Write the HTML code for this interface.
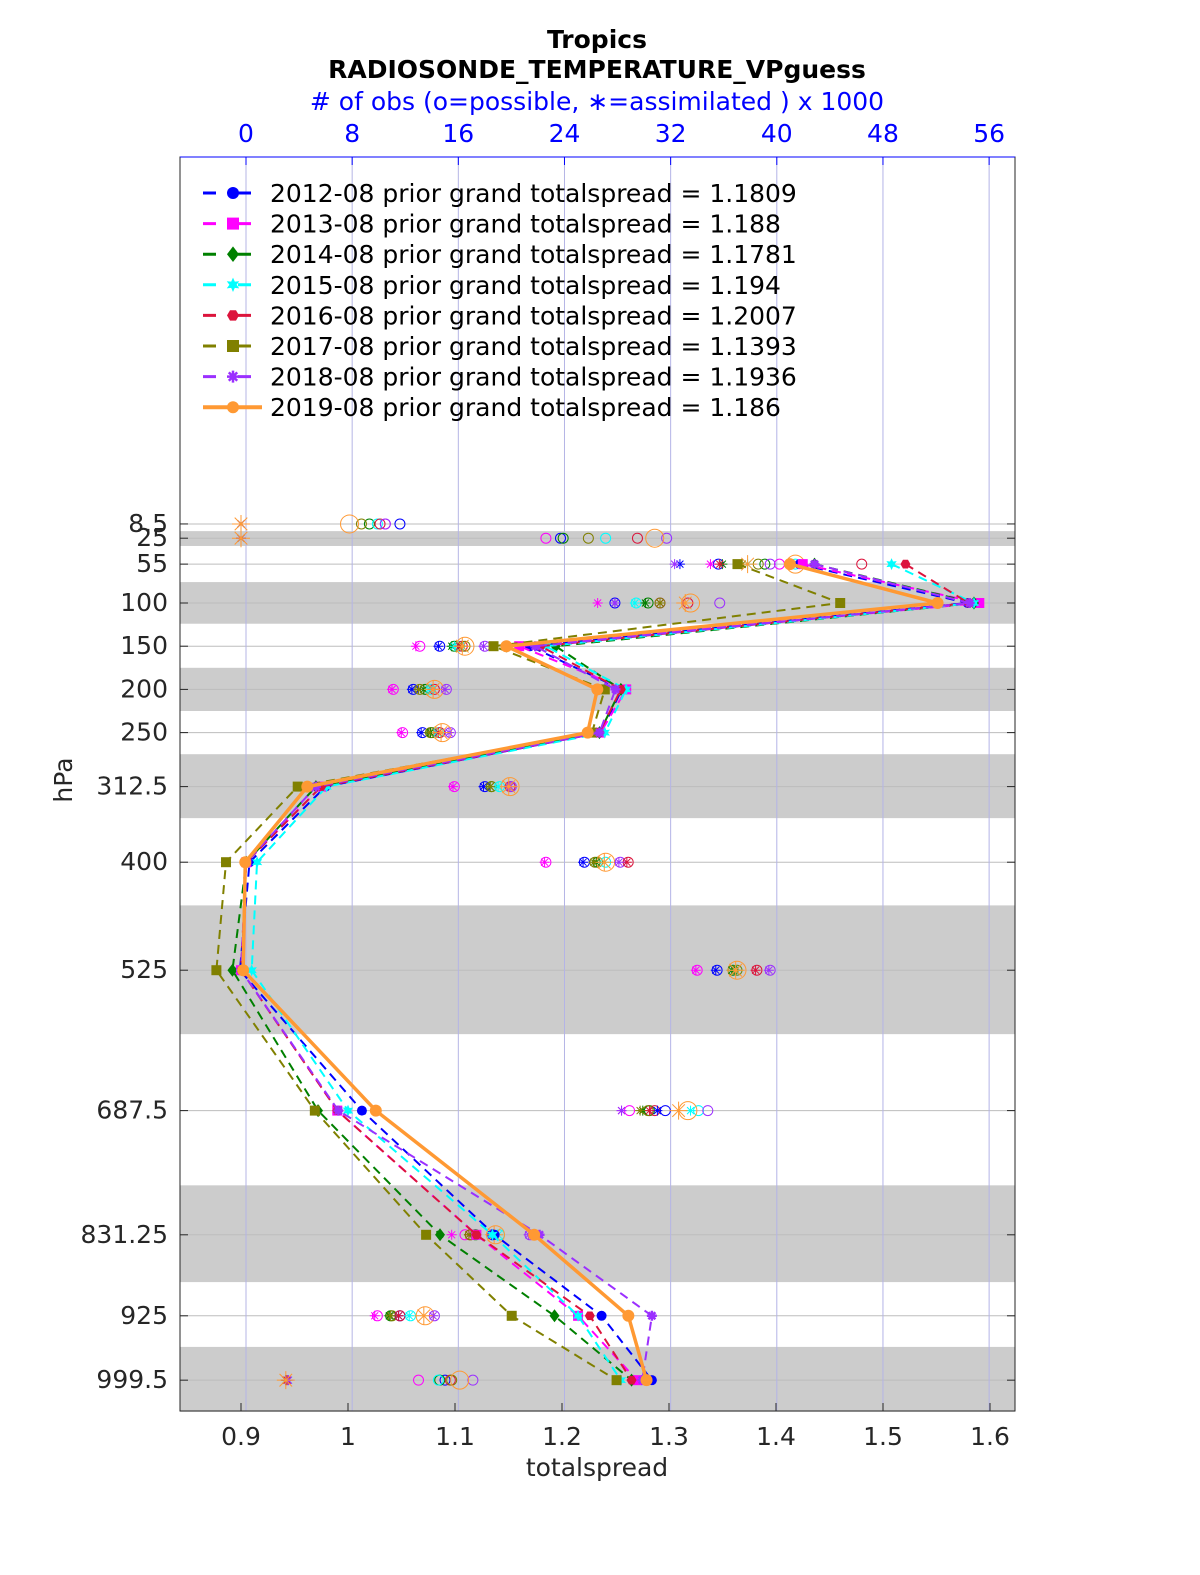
<!DOCTYPE html>
<html><head><meta charset="utf-8"><style>
html,body{margin:0;padding:0;background:#fff;}
svg{display:block;font-family:"DejaVu Sans","Liberation Sans",sans-serif;}
</style></head><body>
<svg id="chart" width="1200" height="1575" viewBox="0 0 1200 1575" xmlns="http://www.w3.org/2000/svg">
<rect x="0" y="0" width="1200" height="1575" fill="#fff"/>
<text x="597" y="48" text-anchor="middle" font-size="25" font-weight="bold">Tropics</text>
<text x="597" y="78" text-anchor="middle" font-size="25" font-weight="bold">RADIOSONDE_TEMPERATURE_VPguess</text>
<text x="597" y="110" text-anchor="middle" font-size="25" fill="#0000ff"># of obs (o=possible, ∗=assimilated ) x 1000</text>
<text x="597" y="1476" text-anchor="middle" font-size="25" fill="#262626">totalspread</text>
<text x="0" y="0" transform="translate(72,780) rotate(-90)" text-anchor="middle" font-size="25" fill="#262626">hPa</text>
<g id="g"></g>
</svg>
<script>
const levels=[8.5,25,55,100,150,200,250,312.5,400,525,687.5,831.25,925,999.5];
const bandTop=[16.8,75.8,175,275,450,774,961];
const bandBottom=[34,124,225,349,599,886,1036];
const xTicks=[0.9,1,1.1,1.2,1.3,1.4,1.5,1.6];
const topTicks=[0,8,16,24,32,40,48,56];
const seriesNames=["2012-08","2013-08","2014-08","2015-08","2016-08","2017-08","2018-08","2019-08"];
const grandSpread=["1.1809","1.188","1.1781","1.194","1.2007","1.1393","1.1936","1.186"];
const lineLevels=[55,100,150,200,250,312.5,400,525,687.5,831.25,925,999.5];
const s2012=[1.422,1.579,1.170,1.256,1.236,0.979,0.908,0.899,1.013,1.137,1.237,1.284];
const s2013=[1.425,1.590,1.160,1.260,1.236,0.975,0.905,0.900,0.990,1.120,1.215,1.270];
const s2014=[1.436,1.585,1.194,1.255,1.235,0.970,0.905,0.892,0.972,1.086,1.193,1.265];
const s2015=[1.508,1.585,1.185,1.260,1.240,0.980,0.915,0.910,1.000,1.135,1.215,1.255];
const s2016=[1.521,1.580,1.180,1.255,1.235,0.975,0.905,0.900,0.990,1.120,1.226,1.265];
const s2017=[1.364,1.460,1.136,1.240,1.228,0.953,0.886,0.877,0.969,1.073,1.153,1.251];
const s2018=[1.436,1.581,1.175,1.250,1.235,0.970,0.905,0.900,0.991,1.179,1.284,1.275];
const s2019=[1.413,1.551,1.148,1.233,1.224,0.962,0.904,0.902,1.026,1.174,1.262,1.279];
const p2012=[11.6,23.7,35.6,27.8,14.6,12.6,13.3,18.0,25.5,35.5,31.6,18.6,11.6,15.0];
const p2013=[10.5,22.6,40.2,31.2,13.1,11.1,11.8,15.7,22.6,34.0,28.9,16.5,9.9,13.0];
const p2014=[9.3,23.9,39.1,30.3,15.7,13.5,14.0,18.5,26.5,36.7,30.4,17.3,10.9,14.6];
const p2015=[9.9,27.1,41.4,29.4,16.1,13.9,14.5,19.1,27.1,37.0,34.1,19.1,12.4,14.5];
const p2016=[10.1,29.5,46.4,33.3,16.3,14.2,14.6,19.9,28.8,38.5,30.8,16.9,11.6,15.4];
const p2017=[8.7,25.8,38.6,31.2,16.5,13.1,13.9,18.5,26.3,37.0,30.3,16.9,11.0,15.5];
const p2018=[10.5,31.7,39.5,35.7,18.0,15.1,15.4,20.0,28.2,39.5,34.8,21.4,14.2,17.1];
const p2019=[7.8,30.8,41.4,33.5,16.5,14.2,14.8,19.9,27.1,37.0,33.3,18.8,13.5,16.1];
const a2012=[0,0,32.7,27.8,14.5,12.5,13.2,17.9,25.4,35.4,31.0,18.5,11.5,3.0];
const a2013=[0,0,35.0,26.5,12.8,11.0,11.7,15.6,22.5,33.9,28.3,15.5,9.7,3.1];
const a2014=[0,0,35.9,30.1,15.5,13.4,13.9,18.4,26.4,36.6,29.9,17.2,10.8,3.0];
const a2015=[0,0,37.8,29.3,15.7,13.8,14.4,19.0,27.0,36.9,33.5,19.0,12.3,3.2];
const a2016=[0,0,35.7,31.2,16.1,14.1,14.5,19.8,28.7,38.4,30.4,16.8,11.5,3.1];
const a2017=[0,0,37.4,31.2,16.3,13.0,13.8,18.4,26.2,36.9,29.7,16.8,10.9,3.0];
const a2018=[0,0,32.3,27.8,17.9,15.0,15.3,19.9,28.1,39.4,28.3,21.3,14.1,3.2];
const a2019=[0,0,37.8,33.1,16.3,14.1,14.7,19.8,27.0,36.9,32.6,18.7,13.4,3.0];

const spreadSeries=[s2012,s2013,s2014,s2015,s2016,s2017,s2018,s2019];
const possSeries=[p2012,p2013,p2014,p2015,p2016,p2017,p2018,p2019];
const assimSeries=[a2012,a2013,a2014,a2015,a2016,a2017,a2018,a2019];
const colors=["#0000ff","#ff00ff","#008000","#00ffff","#dc143c","#808000","#9b30ff","#ff9933"];
const markers=["circle","square","diamond","star","hex","square","asterisk","circle"];

const L=180,R=1015,T=157,B=1411;
const X=v=>241+(v-0.9)*1070;
const XT=n=>246+n*13.27;
const Y=p=>516.6+0.864*p;
const NS="http://www.w3.org/2000/svg";
const g=document.getElementById('g');
function mk(tag,attrs,parent){const e=document.createElementNS(NS,tag);for(const k in attrs)e.setAttribute(k,attrs[k]);(parent||g).appendChild(e);return e;}

bandTop.forEach((t,i)=>{
  const r=mk('rect',{x:L,y:Y(t),width:R-L,height:Y(bandBottom[i])-Y(t),fill:'#cccccc'});
  
  
});
levels.forEach(p=>{
  const l=mk('line',{x1:L,x2:R,y1:Y(p),y2:Y(p),stroke:'#bdbdbd','stroke-width':1});
  
  
});
topTicks.forEach(n=>{
  const l=mk('line',{x1:XT(n),x2:XT(n),y1:T,y2:B,stroke:'#b4b4e6','stroke-width':1});
  
  
  const t=mk('text',{x:XT(n),y:142,'text-anchor':'middle','font-size':25,fill:'#0000ff'});
  t.textContent=n;
  
  
  const k=mk('line',{x1:XT(n),x2:XT(n),y1:T,y2:T+8,stroke:'#0000ff'});
  
  
});
const fr=mk('rect',{x:L,y:T,width:R-L,height:B-T,fill:'none',stroke:'#262626','stroke-width':1});


const tf=mk('line',{x1:L,x2:R,y1:T,y2:T,stroke:'#0000ff'});


xTicks.forEach(v=>{
  const t=mk('text',{x:X(v),y:1445,'text-anchor':'middle','font-size':25,fill:'#262626'});
  t.textContent=v;
  
  
  const k=mk('line',{x1:X(v),x2:X(v),y1:B,y2:B-8,stroke:'#262626'});
  
  
});
levels.forEach(p=>{
  const t=mk('text',{x:168,y:Y(p)+8,'text-anchor':'end','font-size':25,fill:'#262626'});
  t.textContent=p;
  
  
  const k=mk('line',{x1:L,x2:L+8,y1:Y(p),y2:Y(p),stroke:'#262626'});
  
  
  const k2=mk('line',{x1:R-8,x2:R,y1:Y(p),y2:Y(p),stroke:'#262626'});
  
  
});

function marker(type,x,y,c,s){
  let e;
  if(type==='circle')e=mk('circle',{cx:x,cy:y,r:s,fill:c});
  else if(type==='square')e=mk('rect',{x:x-s,y:y-s,width:2*s,height:2*s,fill:c});
  else if(type==='diamond')e=mk('polygon',{points:`${x},${y-s*1.3} ${x+s},${y} ${x},${y+s*1.3} ${x-s},${y}`,fill:c});
  else if(type==='hex'){let pts=[];for(let i=0;i<6;i++){const a=Math.PI/3*i;pts.push((x+s*Math.cos(a))+','+(y+s*Math.sin(a)));}e=mk('polygon',{points:pts.join(' '),fill:c});}
  else if(type==='star'){let pts=[];for(let i=0;i<12;i++){const a=Math.PI/6*i-Math.PI/2,r=i%2?s*0.6:s*1.2;pts.push((x+r*Math.cos(a))+','+(y+r*Math.sin(a)));}e=mk('polygon',{points:pts.join(' '),fill:c});}
  else {e=mk('path',{d:`M${x-s},${y}H${x+s}M${x},${y-s}V${y+s}M${x-s*.7},${y-s*.7}L${x+s*.7},${y+s*.7}M${x-s*.7},${y+s*.7}L${x+s*.7},${y-s*.7}`,stroke:c,'stroke-width':2.5,fill:'none'});}
  return e;
}
function asterisk(x,y,c,s){
  return mk('path',{d:`M${x-s},${y}H${x+s}M${x},${y-s}V${y+s}M${x-s*.7},${y-s*.7}L${x+s*.7},${y+s*.7}M${x-s*.7},${y+s*.7}L${x+s*.7},${y-s*.7}`,stroke:c,'stroke-width':1,fill:'none'});
}
possSeries.forEach((arr,si)=>{
  const big=si===7;
  arr.forEach((n,li)=>{
    const c=mk('circle',{cx:XT(n),cy:Y(levels[li]),r:big?9:5,fill:'none',stroke:colors[si],'stroke-width':1});
    
    
  });
});
assimSeries.forEach((arr,si)=>{
  const big=si===7;
  arr.forEach((n,li)=>{
    const c=asterisk(XT(n)-(n===0?5:0),Y(levels[li]),colors[si],big?9:5);
    
    
  });
});
spreadSeries.forEach((arr,si)=>{
  const pts=arr.map((v,i)=>X(v)+','+Y(lineLevels[i])).join(' ');
  const last=si===7;
  const pl=mk('polyline',{points:pts,fill:'none',stroke:colors[si],'stroke-width':last?3.5:2,'stroke-dasharray':last?'none':'9,6'});
  
  
  arr.forEach((v,i)=>{
    const m=marker(markers[si],X(v),Y(lineLevels[i]),colors[si],last?6:5);
    
    
  });
});
seriesNames.forEach((nm,i)=>{
  const y=193+i*30.6;
  const last=i===7;
  const l1=mk('line',{x1:203,x2:262,y1:y,y2:y,stroke:colors[i],'stroke-width':last?4:3,'stroke-dasharray':last?'none':'13,22'});
  
  
  const m=marker(markers[i],233,y,colors[i],6);
  
  
  const t=mk('text',{x:270,y:y+9,'font-size':25,fill:'#000'});
  t.textContent=nm+' prior grand totalspread = '+grandSpread[i];
  
  
});
</script>
</body></html>
